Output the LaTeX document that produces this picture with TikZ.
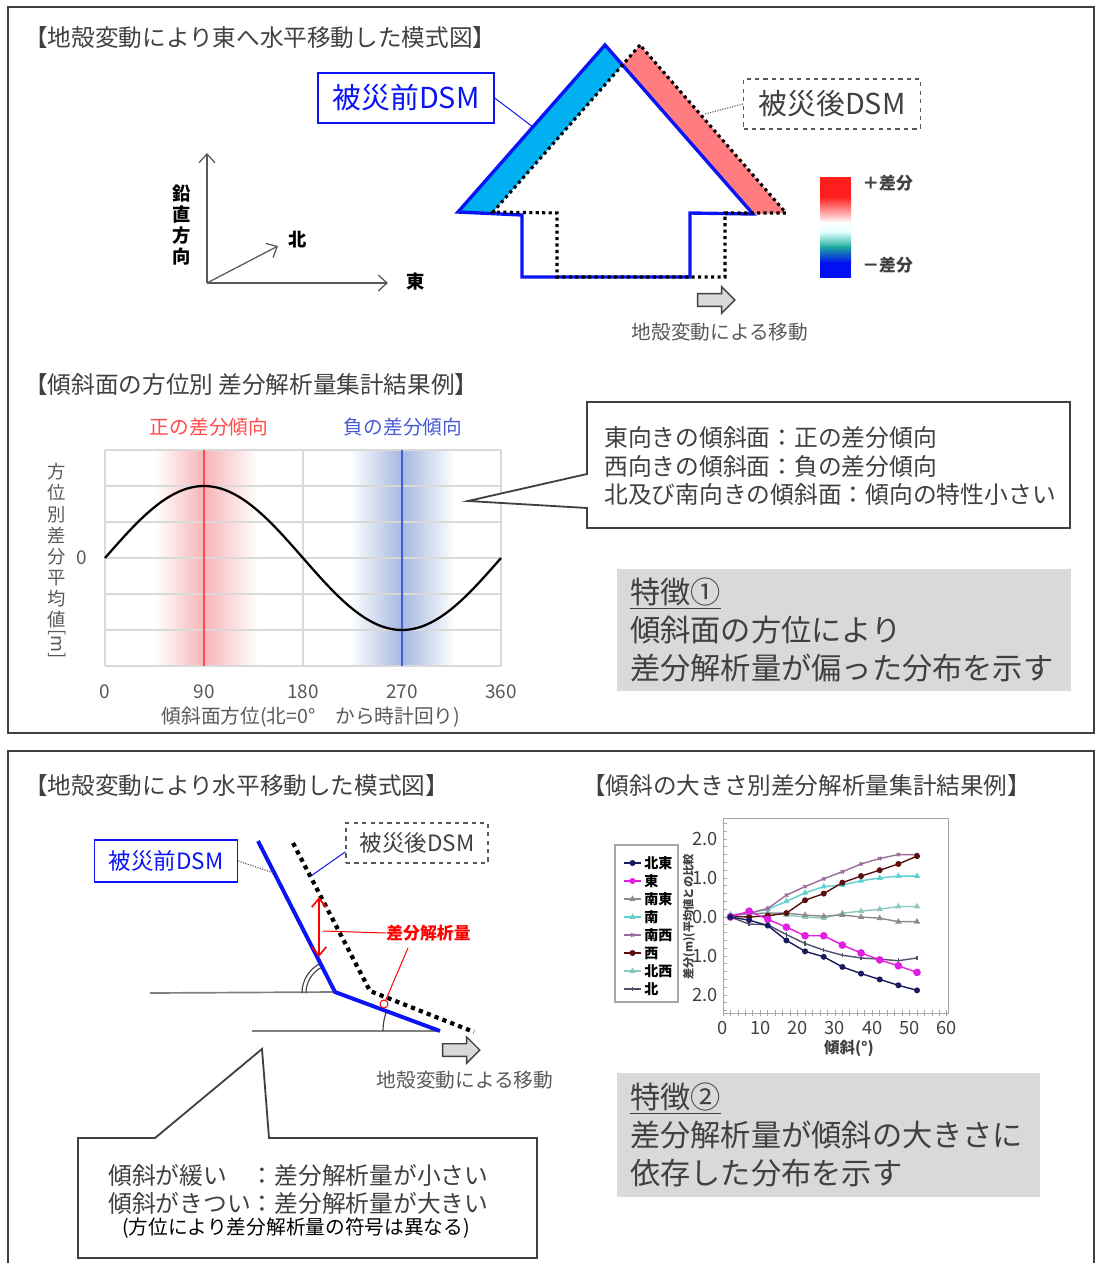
\documentclass[tikz,border=0pt]{standalone}
\usepackage{fontspec}
\setmainfont{Noto Sans CJK JP}
\setsansfont{Noto Sans CJK JP}
\usetikzlibrary{positioning,arrows.meta,shapes.arrows,plotmarks}

\definecolor{dsmblue}{HTML}{0A14F5}
\definecolor{roofblue}{HTML}{00B0F0}
\definecolor{roofred}{HTML}{FF7C80}
\definecolor{inkgrey}{HTML}{404040}
\definecolor{midgrey}{HTML}{595959}
\definecolor{gridgrey}{HTML}{D9D9D9}
\definecolor{posred}{HTML}{FF4B4B}
\definecolor{negblue}{HTML}{4A5BD6}
\definecolor{bandred}{HTML}{F8B4B8}
\definecolor{bandblue}{HTML}{A4B8E0}
\definecolor{barred}{HTML}{FF1E1E}
\definecolor{barteal}{HTML}{1FAE9C}
\definecolor{barblue}{HTML}{0010F0}
% slope chart series
\definecolor{cNE}{HTML}{1A1A5E}
\definecolor{cE}{HTML}{E020E0}
\definecolor{cSE}{HTML}{8C8C8C}
\definecolor{cS}{HTML}{5FD0D0}
\definecolor{cSW}{HTML}{9A6E9A}
\definecolor{cW}{HTML}{5A1010}
\definecolor{cNW}{HTML}{8CC8C0}
\definecolor{cN}{HTML}{50506A}

\tikzset{
  panel/.style   ={draw=inkgrey, line width=1.3pt},
  ttl/.style     ={anchor=west, inner sep=0pt, text=inkgrey, font=\fontsize{16.8}{19}\selectfont},
  dsmpre/.style  ={draw=dsmblue, line width=0.9pt, text=dsmblue, inner sep=0pt},
  dsmpost/.style ={draw=midgrey, dashed, line width=0.9pt, text=inkgrey, inner sep=0pt},
  preline/.style ={draw=dsmblue, line width=2.4pt, line join=miter},
  postline/.style={draw=black, line width=2.2pt, dash pattern=on 2.2pt off 2.4pt},
  axarr/.style   ={draw=midgrey, line width=0.9pt, -{Straight Barb[length=2.2mm,width=4mm]}},
  axlbl/.style   ={inner sep=0pt, text=black, font=\bfseries\fontsize{13}{15}\selectfont},
  movearr/.style ={single arrow, draw=inkgrey, fill=gray!30, line width=1pt,
                   minimum height=0.93cm, single arrow head extend=0.17cm,
                   single arrow head indent=0pt, inner sep=0.14cm},
  movelbl/.style ={inner sep=0pt, text=midgrey, font=\fontsize{14}{17}\selectfont},
  gridln/.style  ={draw=gridgrey, line width=0.8pt},
  ticklbl/.style ={inner sep=0pt, text=midgrey, font=\fontsize{13.5}{16}\selectfont},
  callbox/.style ={draw=inkgrey, line width=1.3pt, fill=white},
  calltxt/.style ={anchor=west, align=left, inner sep=0pt, text=inkgrey,
                   font=\fontsize{16.9}{20.4}\selectfont},
  featbox/.style ={fill=gridgrey, text=inkgrey, align=left, inner xsep=0.33cm, inner ysep=0pt,
                   font=\fontsize{21.5}{26.7}\selectfont},
  ser/.style     ={line width=1pt, mark size=1.6pt, mark options={solid}},
  ctick/.style   ={inner sep=0pt, text=inkgrey, font=\fontsize{13}{15}\selectfont},
  legtxt/.style  ={anchor=west, inner sep=0pt, text=black, font=\bfseries\fontsize{10}{12}\selectfont}
}

\begin{document}
\begin{tikzpicture}[x=0.025cm, y=-0.025cm]
  \useasboundingbox (0,0) rectangle (1097,1263);

  % ---------- upper panel ----------
  \draw[panel] (8,7) rectangle (1094,733);
  \node[ttl] (ttlA) at (24,38) {【地殻変動により東へ水平移動した模式図】};

  % axes
  \coordinate (ax0) at (207,283);
  \coordinate (axU) at (207,153);
  \coordinate (axE) at (388,283);
  \coordinate (axN) at (278,246);
  \draw[axarr] (ax0) -- (axU);
  \draw[axarr] (ax0) -- (axE);
  \draw[axarr] (ax0) -- (axN);
  \node[axlbl, align=center] (lblV) at (182,225) {鉛\\直\\方\\向};
  \node[axlbl] (lblN) at (298,240) {北};
  \node[axlbl] (lblE) at (416,282) {東};

  % roof bands between the two outlines
  \fill[roofblue] (458,212) -- (605,45) -- (622,65.5) -- (493,212) -- cycle;
  \fill[roofred] (622,65.5) -- (640,45) -- (786,213) -- (753,214) -- cycle;
  % before (blue) and after (dotted) outlines
  \draw[preline] (605,45) -- (458,212) -- (522,215) -- (522,277) -- (690,277)
    -- (690,213) -- (753,214) -- cycle;
  \draw[postline] (640,45) -- (493,212) -- (557,213) -- (557,277) -- (725,277)
    -- (725,213) -- (786,213) -- cycle;

  \node[dsmpre, minimum width=4.4cm, minimum height=1.25cm,
        font=\fontsize{20.5}{24}\selectfont] (preA) at (406,98) {被災前DSM};
  \coordinate (roofL) at (533,127);
  \draw[dsmblue, line width=0.7pt] (preA.east) -- (roofL);
  \node[dsmpost, minimum width=4.42cm, minimum height=1.25cm,
        font=\fontsize{20.5}{24}\selectfont] (postA) at (832,104) {被災後DSM};
  \coordinate (roofR) at (705,114);
  \draw[midgrey, densely dotted, line width=0.8pt] (postA.west) -- (roofR);

  % colour bar
  \fill[barred] (820,177) rectangle (851,198);
  \shade[top color=barred, bottom color=white] (820,197) rectangle (851,223);
  \shade[top color=white, bottom color=cyan!12] (820,222) rectangle (851,233);
  \shade[top color=cyan!12, bottom color=barteal] (820,232) rectangle (851,247);
  \shade[top color=barteal, bottom color=barblue] (820,246) rectangle (851,263);
  \fill[barblue] (820,262) rectangle (851,278);
  \node[axlbl, anchor=west, text=inkgrey, font=\bfseries\fontsize{12}{14}\selectfont] (barP) at (862,183) {＋差分};
  \node[axlbl, anchor=west, text=inkgrey, font=\bfseries\fontsize{12}{14}\selectfont] (barM) at (862,265) {－差分};

  \node[movearr] (mv1) at (713,300) {};
  \node[movelbl] (mv1lbl) at (720,332) {地殻変動による移動};

  % azimuth chart
  \node[ttl] (ttlB) at (24,385) {【傾斜面の方位別 差分解析量集計結果例】};
  \node[inner sep=0pt, text=posred, font=\fontsize{14}{17}\selectfont] (posT) at (209,427) {正の差分傾向};
  \node[inner sep=0pt, text=negblue, font=\fontsize{14}{17}\selectfont] (negT) at (403,427) {負の差分傾向};

  \shade[left color=white, right color=bandred] (155,450) rectangle (204,666);
  \shade[left color=bandred, right color=white] (204,450) rectangle (258,666);
  \shade[left color=white, right color=bandblue] (350,450) rectangle (402,666);
  \shade[left color=bandblue, right color=white] (402,450) rectangle (455,666);
  \foreach \gy in {450,486,...,666}
    \draw[gridln] (105,\gy) -- (501,\gy);
  \foreach \gx in {105,303,501}
    \draw[gridln] (\gx,450) -- (\gx,666);
  \draw[posred, line width=0.8pt] (204,450) -- (204,666);
  \draw[negblue, line width=0.8pt] (402,450) -- (402,666);
  \draw[black, line width=1.6pt] plot[domain=0:360, samples=120] ({105+1.1*\x},{558-72*sin(\x)});

  \foreach \d in {0,90,180,270,360}
    \node[ticklbl] at ({105+1.1*\d},692) {\d};
  \node[ticklbl] (zeroT) at (82,558) {0};
  \node[ticklbl, align=center, font=\fontsize{13}{15}\selectfont] (yAz) at (57,561)
    {方\\位\\別\\差\\分\\平\\均\\値\\\rotatebox[origin=c]{-90}{[m]}};
  \node[ticklbl, font=\fontsize{14}{17}\selectfont] (xAz) at (311,717) {傾斜面方位(北=0°　から時計回り)};

  % callout and first feature
  \draw[callbox] (587,402) -| (1070,528) -| (587,508) -- (468,501) -- (587,474) -- cycle;
  \node[calltxt] (call1) at (604,466)
    {東向きの傾斜面：正の差分傾向\\西向きの傾斜面：負の差分傾向\\北及び南向きの傾斜面：傾向の特性小さい};
  \node[featbox, minimum width=11.35cm, minimum height=3.05cm, text width=10.69cm] (feat1) at (844,630)
    {\underline{特徴①}\\傾斜面の方位により\\差分解析量が偏った分布を示す};

  % ---------- lower panel ----------
  \draw[panel] (8,1263) |- (1094,751) -- (1094,1263);
  \node[ttl] (ttlC) at (24,786) {【地殻変動により水平移動した模式図】};
  \node[ttl] (ttlD) at (582,786) {【傾斜の大きさ別差分解析量集計結果例】};

  % slope profile
  \coordinate (gA) at (150,993);
  \coordinate (gB) at (252,1031);
  \coordinate (bA) at (258,841);
  \coordinate (bB) at (335,992);
  \coordinate (bC) at (440,1031);
  \coordinate (dA) at (293,843);
  \coordinate (dB) at (370,991);
  \coordinate (dC) at (474,1032);
  \draw[gray, line width=1.2pt] (gA) -- (bB);
  \draw[gray, line width=1.2pt] (gB) -- (bC);
  \draw[inkgrey, line width=0.8pt] (302,993) arc[start angle=180, end angle=117, radius=0.825cm];
  \draw[inkgrey, line width=0.8pt] (306,993) arc[start angle=180, end angle=117, radius=0.725cm];
  \draw[inkgrey, line width=0.8pt] (383,1031) arc[start angle=180, end angle=159.6, radius=1.425cm];
  \draw[preline, line width=2.8pt] (bA) -- (bB) -- (bC);
  \draw[postline, line width=3pt, dash pattern=on 3pt off 3pt] (dA) -- (dB) -- (dC);

  \node[dsmpre, minimum width=3.575cm, minimum height=1.05cm,
        font=\fontsize{16}{19}\selectfont] (preB) at (166,861) {被災前DSM};
  \coordinate (slpL) at (274,873);
  \draw[midgrey, densely dotted, line width=0.8pt] (preB.east) -- (slpL);
  \node[dsmpost, minimum width=3.55cm, minimum height=1.0cm,
        font=\fontsize{16}{19}\selectfont] (postB) at (417,843) {被災後DSM};
  \coordinate (slpR) at (311,876);
  \draw[dsmblue, line width=0.7pt] ([yshift=-0.22cm]postB.west) -- (slpR);

  % difference marker
  \coordinate (dfT) at (319,897);
  \coordinate (dfB) at (319,957);
  \draw[red, line width=1.2pt, {Straight Barb[length=2.2mm,width=3.6mm]}-{Straight Barb[length=2.2mm,width=3.6mm]}] (dfT) -- (dfB);
  \node[anchor=west, inner sep=0pt, text=red, font=\bfseries\fontsize{12}{14}\selectfont] (dfLbl) at (386,933) {差分解析量};
  \draw[red, line width=0.7pt] (323,931) -- (dfLbl.west);
  \node[draw=red, line width=0.7pt, circle, inner sep=0pt, minimum size=0.2cm] (dfDot) at (384,1004) {};
  \draw[red, line width=0.7pt] (408,948) -- (dfDot);

  \node[movearr] (mv2) at (458,1050) {};
  \node[movelbl] (mv2lbl) at (465,1080) {地殻変動による移動};

  % callout below the profile
  \draw[callbox] (78,1138) -- (155,1138) -- (262,1049) -- (269,1138) -| (537,1258) -| cycle;
  \node[calltxt] (call2a) at (108,1175) {傾斜が緩い　：差分解析量が小さい};
  \node[calltxt] (call2b) at (108,1203) {傾斜がきつい：差分解析量が大きい};
  \node[calltxt, text=black, font=\fontsize{14}{16}\selectfont] (call2c) at (122,1228) {(方位により差分解析量の符号は異なる)};

  % slope chart
  \draw[gray!70, line width=0.6pt] (723,818) rectangle (948,1013);
  \foreach \v in {-2.4,-2.2,...,2.5}
    \draw[gray!70, line width=0.5pt] (723,{917-39*\v}) -- (727,{917-39*\v});
  \foreach \d in {0,2,...,60}
    \draw[gray!70, line width=0.5pt] ({723+3.73*\d},1010) -- ({723+3.73*\d},1016);
  \foreach \d in {0,10,...,60}
    \node[ctick] at ({723+3.73*\d},1028) {\d};
  \foreach \v/\lb in {2/2.0,1/1.0,0/0.0,-1/1.0,-2/2.0}
    \node[ctick, anchor=east] at (718,{917-39*\v}) {\lb};
  \node[ctick, font=\bfseries\fontsize{11}{13}\selectfont] (xSl) at (849,1048) {傾斜(°)};
  \node[ctick, rotate=90, font=\bfseries\fontsize{8}{9}\selectfont] (ySl) at (689,917) {差分(m)(平均値との比較};

  \begin{scope}[shift={(723,917)}, x=0.09325cm, y=0.975cm]
    \draw[ser, cN, mark=|] plot coordinates {(2,0) (7,-0.18) (12,-0.2) (17,-0.45) (22,-0.68) (27,-0.85) (32,-0.98) (37,-1.05) (42,-1.08) (47,-1.12) (52,-1.05)};
    \draw[ser, cNW, mark=triangle*] plot coordinates {(2,0.05) (7,0.08) (12,0.1) (17,0.05) (22,0.0) (27,-0.03) (32,0.1) (37,0.15) (42,0.2) (47,0.27) (52,0.27)};
    \draw[ser, cSE, mark=triangle*] plot coordinates {(2,0.05) (7,0.08) (12,0.1) (17,0.1) (22,0.05) (27,0.02) (32,0.05) (37,0.0) (42,-0.03) (47,-0.12) (52,-0.12)};
    \draw[ser, cS, mark=triangle*] plot coordinates {(2,0.05) (7,0.1) (12,0.2) (17,0.4) (22,0.62) (27,0.78) (32,0.82) (37,0.93) (42,1.0) (47,1.05) (52,1.05)};
    \draw[ser, cSW, mark=x] plot coordinates {(2,0.05) (7,0.1) (12,0.22) (17,0.56) (22,0.78) (27,0.98) (32,1.16) (37,1.36) (42,1.5) (47,1.6) (52,1.6)};
    \draw[ser, cW, mark=*] plot coordinates {(2,0.02) (7,0.0) (12,0.03) (17,0.1) (22,0.43) (27,0.6) (32,0.88) (37,1.05) (42,1.2) (47,1.36) (52,1.56)};
    \draw[ser, cE, mark=*, mark size=2.2pt] plot coordinates {(2,0) (7,0.15) (12,-0.06) (17,-0.26) (22,-0.48) (27,-0.48) (32,-0.72) (37,-0.92) (42,-1.1) (47,-1.25) (52,-1.42)};
    \draw[ser, cNE, mark=*] plot coordinates {(2,0) (7,-0.08) (12,-0.22) (17,-0.6) (22,-0.88) (27,-1.02) (32,-1.28) (37,-1.45) (42,-1.6) (47,-1.75) (52,-1.88)};
  \end{scope}

  % legend
  \draw[gray!70, line width=0.8pt] (615,845) rectangle (678,1002);
  \foreach \nm/\col/\mk [count=\i from 0] in {北東/cNE/*, 東/cE/*, 南東/cSE/triangle*, 南/cS/triangle*,
      南西/cSW/x, 西/cW/*, 北西/cNW/triangle*, 北/cN/|}{
    \draw[\col, line width=1pt] (624,{863+18*\i}) -- (641,{863+18*\i});
    \path[ser, \col] plot[mark=\mk] coordinates {(632.5,{863+18*\i})};
    \node[legtxt] (leg\i) at (644,{863+18*\i}) {\nm};
  }

  % second feature
  \node[featbox, minimum width=10.575cm, minimum height=3.1cm, text width=9.915cm] (feat2) at (828.5,1135)
    {\underline{特徴②}\\差分解析量が傾斜の大きさに\\依存した分布を示す};
\end{tikzpicture}
\end{document}
